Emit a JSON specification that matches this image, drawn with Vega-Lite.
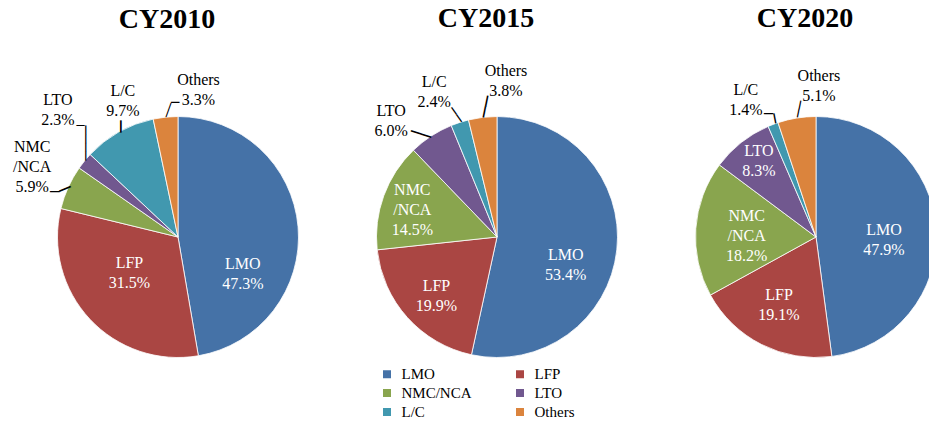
{
  "$schema": "https://vega.github.io/schema/vega-lite/v6.json",
  "padding": {"left": 12.5, "top": 4, "right": -47, "bottom": 0},
  "spacing": 0,
  "bounds": "flush",
  "datasets": {
    "y2010": [
      {"type": "LMO", "share": 0.473, "ord": 1, "label": "LMO\n47.3%"},
      {"type": "LFP", "share": 0.315, "ord": 2, "label": "LFP\n31.5%"},
      {"type": "NMC/NCA", "share": 0.059, "ord": 3, "label": "NMC\n/NCA\n5.9%"},
      {"type": "LTO", "share": 0.023, "ord": 4, "label": "LTO\n2.3%"},
      {"type": "L/C", "share": 0.097, "ord": 5, "label": "L/C\n9.7%"},
      {"type": "Others", "share": 0.033, "ord": 6, "label": "Others\n3.3%"}
    ],
    "y2015": [
      {"type": "LMO", "share": 0.534, "ord": 1, "label": "LMO\n53.4%"},
      {"type": "LFP", "share": 0.199, "ord": 2, "label": "LFP\n19.9%"},
      {"type": "NMC/NCA", "share": 0.145, "ord": 3, "label": "NMC\n/NCA\n14.5%"},
      {"type": "LTO", "share": 0.060, "ord": 4, "label": "LTO\n6.0%"},
      {"type": "L/C", "share": 0.024, "ord": 5, "label": "L/C\n2.4%"},
      {"type": "Others", "share": 0.038, "ord": 6, "label": "Others\n3.8%"}
    ],
    "y2020": [
      {"type": "LMO", "share": 0.479, "ord": 1, "label": "LMO\n47.9%"},
      {"type": "LFP", "share": 0.191, "ord": 2, "label": "LFP\n19.1%"},
      {"type": "NMC/NCA", "share": 0.182, "ord": 3, "label": "NMC\n/NCA\n18.2%"},
      {"type": "LTO", "share": 0.083, "ord": 4, "label": "LTO\n8.3%"},
      {"type": "L/C", "share": 0.014, "ord": 5, "label": "L/C\n1.4%"},
      {"type": "Others", "share": 0.051, "ord": 6, "label": "Others\n5.1%"}
    ]
  },
  "hconcat": [
    {
      "width": 319, "height": 250, "title": {"text": "CY2010", "offset": 10.7},
      "data": {"name": "y2010"},
      "layer": [
        {"mark": {"type": "arc", "outerRadius": 120.5, "stroke": "white", "strokeWidth": 0.8},
         "encoding": {
           "theta": {"field": "share", "type": "quantitative", "stack": true, "scale": {"domain": [0, 1]}},
           "order": {"field": "ord"},
           "color": {"field": "type", "type": "nominal",
             "scale": {"domain": ["LMO", "LFP", "NMC/NCA", "LTO", "L/C", "Others"], "range": ["#4572A7", "#AA4643", "#89A54E", "#71588F", "#4198AF", "#DB843D"]},
             "legend": {"orient": "none", "legendX": 361, "legendY": 254.5, "direction": "horizontal", "title": null, "columns": 2, "symbolType": "square", "symbolSize": 64, "symbolStrokeWidth": 0, "labelFont": "Liberation Serif", "labelFontSize": 15, "labelColor": "black", "labelOffset": 7, "columnPadding": 40, "rowPadding": 3, "padding": 0}}
         }},
        {"mark": {"type": "text", "radius": 74.4, "thetaOffset": 0.598, "dy": -10, "color": "white"}, "encoding": {"theta": {"field": "share", "type": "quantitative", "stack": true}, "order": {"field": "ord"}, "text": {"condition": {"test": "datum.type==='LMO'", "field": "label"}, "value": ""}}},
        {"mark": {"type": "text", "radius": 60.3, "thetaOffset": 0.1155, "dy": -10, "color": "white"}, "encoding": {"theta": {"field": "share", "type": "quantitative", "stack": true}, "order": {"field": "ord"}, "text": {"condition": {"test": "datum.type==='LFP'", "field": "label"}, "value": ""}}},
        {"mark": {"type": "text", "radius": 162, "thetaOffset": 0.026, "dy": -20, "color": "black"}, "encoding": {"theta": {"field": "share", "type": "quantitative", "stack": true}, "order": {"field": "ord"}, "text": {"condition": {"test": "datum.type==='NMC/NCA'", "field": "label"}, "value": ""}}},
        {"mark": {"type": "text", "radius": 174.5, "thetaOffset": 0.130, "dy": -10, "color": "black"}, "encoding": {"theta": {"field": "share", "type": "quantitative", "stack": true}, "order": {"field": "ord"}, "text": {"condition": {"test": "datum.type==='LTO'", "field": "label"}, "value": ""}}},
        {"mark": {"type": "text", "radius": 147.2, "thetaOffset": 0.128, "dy": -10, "color": "black"}, "encoding": {"theta": {"field": "share", "type": "quantitative", "stack": true}, "order": {"field": "ord"}, "text": {"condition": {"test": "datum.type==='L/C'", "field": "label"}, "value": ""}}},
        {"mark": {"type": "text", "radius": 148.9, "thetaOffset": 0.2416, "dy": -10, "color": "black"}, "encoding": {"theta": {"field": "share", "type": "quantitative", "stack": true}, "order": {"field": "ord"}, "text": {"condition": {"test": "datum.type==='Others'", "field": "label"}, "value": ""}}},
        {"mark": {"type": "text", "radius": 131.2, "thetaOffset": -0.0733, "angle": 0, "font": "DejaVu Sans Mono", "fontSize": 15.8, "color": "black"}, "encoding": {"theta": {"field": "share", "type": "quantitative", "stack": true}, "order": {"field": "ord"}, "text": {"condition": {"test": "datum.type==='NMC/NCA'", "value": "─"}, "value": ""}}},
        {"mark": {"type": "text", "radius": 122.3, "thetaOffset": -0.0262, "angle": -22.3, "font": "DejaVu Sans Mono", "fontSize": 20, "color": "black"}, "encoding": {"theta": {"field": "share", "type": "quantitative", "stack": true}, "order": {"field": "ord"}, "text": {"condition": {"test": "datum.type==='NMC/NCA'", "value": "─"}, "value": ""}}},
        {"mark": {"type": "text", "radius": 148.1, "thetaOffset": 0.170, "angle": 0, "font": "DejaVu Sans Mono", "fontSize": 13.3, "color": "black"}, "encoding": {"theta": {"field": "share", "type": "quantitative", "stack": true}, "order": {"field": "ord"}, "text": {"condition": {"test": "datum.type==='LTO'", "value": "─"}, "value": ""}}},
        {"mark": {"type": "text", "radius": 132.1, "thetaOffset": 0.1107, "angle": 90, "font": "DejaVu Sans Mono", "fontSize": 14.5, "color": "black"}, "encoding": {"theta": {"field": "share", "type": "quantitative", "stack": true}, "order": {"field": "ord"}, "text": {"condition": {"test": "datum.type==='LTO'", "value": "────"}, "value": ""}}},
        {"mark": {"type": "text", "radius": 125, "thetaOffset": 0.0251, "angle": 90, "font": "DejaVu Sans Mono", "fontSize": 19.9, "color": "black"}, "encoding": {"theta": {"field": "share", "type": "quantitative", "stack": true}, "order": {"field": "ord"}, "text": {"condition": {"test": "datum.type==='L/C'", "value": "─"}, "value": ""}}},
        {"mark": {"type": "text", "radius": 133.8, "thetaOffset": 0.0827, "angle": 0, "font": "DejaVu Sans Mono", "fontSize": 13.8, "color": "black"}, "encoding": {"theta": {"field": "share", "type": "quantitative", "stack": true}, "order": {"field": "ord"}, "text": {"condition": {"test": "datum.type==='Others'", "value": "─"}, "value": ""}}},
        {"mark": {"type": "text", "radius": 127.1, "thetaOffset": 0.0304, "angle": -70.3, "font": "DejaVu Sans Mono", "fontSize": 12.4, "color": "black"}, "encoding": {"theta": {"field": "share", "type": "quantitative", "stack": true}, "order": {"field": "ord"}, "text": {"condition": {"test": "datum.type==='Others'", "value": "──"}, "value": ""}}}
      ]
    },
    {
      "width": 319, "height": 250, "title": {"text": "CY2015", "offset": 29.7},
      "data": {"name": "y2015"},
      "layer": [
        {"mark": {"type": "arc", "outerRadius": 120.5, "stroke": "white", "strokeWidth": 0.8},
         "encoding": {
           "theta": {"field": "share", "type": "quantitative", "stack": true, "scale": {"domain": [0, 1]}},
           "order": {"field": "ord"},
           "color": {"field": "type", "type": "nominal",
             "scale": {"domain": ["LMO", "LFP", "NMC/NCA", "LTO", "L/C", "Others"], "range": ["#4572A7", "#AA4643", "#89A54E", "#71588F", "#4198AF", "#DB843D"]},
             "legend": {"orient": "none", "legendX": 361, "legendY": 254.5, "direction": "horizontal", "title": null, "columns": 2, "symbolType": "square", "symbolSize": 64, "symbolStrokeWidth": 0, "labelFont": "Liberation Serif", "labelFontSize": 15, "labelColor": "black", "labelOffset": 7, "columnPadding": 40, "rowPadding": 3, "padding": 0}}
         }},
        {"mark": {"type": "text", "radius": 74.1, "thetaOffset": 0.2772, "dy": -10, "color": "white"}, "encoding": {"theta": {"field": "share", "type": "quantitative", "stack": true}, "order": {"field": "ord"}, "text": {"condition": {"test": "datum.type==='LMO'", "field": "label"}, "value": ""}}},
        {"mark": {"type": "text", "radius": 84.3, "thetaOffset": -0.0377, "dy": -10, "color": "white"}, "encoding": {"theta": {"field": "share", "type": "quantitative", "stack": true}, "order": {"field": "ord"}, "text": {"condition": {"test": "datum.type==='LFP'", "field": "label"}, "value": ""}}},
        {"mark": {"type": "text", "radius": 88.9, "thetaOffset": -0.0398, "dy": -20, "color": "white"}, "encoding": {"theta": {"field": "share", "type": "quantitative", "stack": true}, "order": {"field": "ord"}, "text": {"condition": {"test": "datum.type==='NMC/NCA'", "field": "label"}, "value": ""}}},
        {"mark": {"type": "text", "radius": 156.9, "thetaOffset": -0.162, "dy": -10, "color": "black"}, "encoding": {"theta": {"field": "share", "type": "quantitative", "stack": true}, "order": {"field": "ord"}, "text": {"condition": {"test": "datum.type==='LTO'", "field": "label"}, "value": ""}}},
        {"mark": {"type": "text", "radius": 157.7, "thetaOffset": -0.096, "dy": -10, "color": "black"}, "encoding": {"theta": {"field": "share", "type": "quantitative", "stack": true}, "order": {"field": "ord"}, "text": {"condition": {"test": "datum.type==='L/C'", "field": "label"}, "value": ""}}},
        {"mark": {"type": "text", "radius": 156.6, "thetaOffset": 0.177, "dy": -10, "color": "black"}, "encoding": {"theta": {"field": "share", "type": "quantitative", "stack": true}, "order": {"field": "ord"}, "text": {"condition": {"test": "datum.type==='Others'", "field": "label"}, "value": ""}}},
        {"mark": {"type": "text", "radius": 127.5, "thetaOffset": -0.0642, "angle": 17.5, "font": "DejaVu Sans Mono", "fontSize": 17.4, "color": "black"}, "encoding": {"theta": {"field": "share", "type": "quantitative", "stack": true}, "order": {"field": "ord"}, "text": {"condition": {"test": "datum.type==='LTO'", "value": "──"}, "value": ""}}},
        {"mark": {"type": "text", "radius": 128.6, "thetaOffset": -0.0122, "angle": 55.2, "font": "DejaVu Sans Mono", "fontSize": 14.5, "color": "black"}, "encoding": {"theta": {"field": "share", "type": "quantitative", "stack": true}, "order": {"field": "ord"}, "text": {"condition": {"test": "datum.type==='L/C'", "value": "──"}, "value": ""}}},
        {"mark": {"type": "text", "radius": 131, "thetaOffset": 0.0286, "angle": 101.2, "font": "DejaVu Sans Mono", "fontSize": 18.4, "color": "black"}, "encoding": {"theta": {"field": "share", "type": "quantitative", "stack": true}, "order": {"field": "ord"}, "text": {"condition": {"test": "datum.type==='Others'", "value": "──"}, "value": ""}}}
      ]
    },
    {
      "width": 319, "height": 250, "title": {"text": "CY2020", "offset": 34.7},
      "data": {"name": "y2020"},
      "layer": [
        {"mark": {"type": "arc", "outerRadius": 120.5, "stroke": "white", "strokeWidth": 0.8},
         "encoding": {
           "theta": {"field": "share", "type": "quantitative", "stack": true, "scale": {"domain": [0, 1]}},
           "order": {"field": "ord"},
           "color": {"field": "type", "type": "nominal",
             "scale": {"domain": ["LMO", "LFP", "NMC/NCA", "LTO", "L/C", "Others"], "range": ["#4572A7", "#AA4643", "#89A54E", "#71588F", "#4198AF", "#DB843D"]},
             "legend": {"orient": "none", "legendX": 361, "legendY": 254.5, "direction": "horizontal", "title": null, "columns": 2, "symbolType": "square", "symbolSize": 64, "symbolStrokeWidth": 0, "labelFont": "Liberation Serif", "labelFontSize": 15, "labelColor": "black", "labelOffset": 7, "columnPadding": 40, "rowPadding": 3, "padding": 0}}
         }},
        {"mark": {"type": "text", "radius": 68.1, "thetaOffset": 0.1166, "dy": -10, "color": "white"}, "encoding": {"theta": {"field": "share", "type": "quantitative", "stack": true}, "order": {"field": "ord"}, "text": {"condition": {"test": "datum.type==='LMO'", "field": "label"}, "value": ""}}},
        {"mark": {"type": "text", "radius": 77, "thetaOffset": 0.0328, "dy": -10, "color": "white"}, "encoding": {"theta": {"field": "share", "type": "quantitative", "stack": true}, "order": {"field": "ord"}, "text": {"condition": {"test": "datum.type==='LFP'", "field": "label"}, "value": ""}}},
        {"mark": {"type": "text", "radius": 69.3, "thetaOffset": -0.0552, "dy": -20, "color": "white"}, "encoding": {"theta": {"field": "share", "type": "quantitative", "stack": true}, "order": {"field": "ord"}, "text": {"condition": {"test": "datum.type==='NMC/NCA'", "field": "label"}, "value": ""}}},
        {"mark": {"type": "text", "radius": 94.8, "thetaOffset": 0.0234, "dy": -10, "color": "white"}, "encoding": {"theta": {"field": "share", "type": "quantitative", "stack": true}, "order": {"field": "ord"}, "text": {"condition": {"test": "datum.type==='LTO'", "field": "label"}, "value": ""}}},
        {"mark": {"type": "text", "radius": 153.5, "thetaOffset": -0.1103, "dy": -10, "color": "black"}, "encoding": {"theta": {"field": "share", "type": "quantitative", "stack": true}, "order": {"field": "ord"}, "text": {"condition": {"test": "datum.type==='L/C'", "field": "label"}, "value": ""}}},
        {"mark": {"type": "text", "radius": 151.5, "thetaOffset": 0.1794, "dy": -10, "color": "black"}, "encoding": {"theta": {"field": "share", "type": "quantitative", "stack": true}, "order": {"field": "ord"}, "text": {"condition": {"test": "datum.type==='Others'", "field": "label"}, "value": ""}}},
        {"mark": {"type": "text", "radius": 131.9, "thetaOffset": -0.0038, "angle": 0, "font": "DejaVu Sans Mono", "fontSize": 15, "color": "black"}, "encoding": {"theta": {"field": "share", "type": "quantitative", "stack": true}, "order": {"field": "ord"}, "text": {"condition": {"test": "datum.type==='L/C'", "value": "─"}, "value": ""}}},
        {"mark": {"type": "text", "radius": 125.7, "thetaOffset": 0.0241, "angle": 79, "font": "DejaVu Sans Mono", "fontSize": 16.6, "color": "black"}, "encoding": {"theta": {"field": "share", "type": "quantitative", "stack": true}, "order": {"field": "ord"}, "text": {"condition": {"test": "datum.type==='L/C'", "value": "─"}, "value": ""}}},
        {"mark": {"type": "text", "radius": 129.4, "thetaOffset": 0.0223, "angle": 101.2, "font": "DejaVu Sans Mono", "fontSize": 14.1, "color": "black"}, "encoding": {"theta": {"field": "share", "type": "quantitative", "stack": true}, "order": {"field": "ord"}, "text": {"condition": {"test": "datum.type==='Others'", "value": "──"}, "value": ""}}}
      ]
    }
  ],
  "config": {
    "view": {"stroke": null},
    "text": {"font": "Liberation Serif", "fontSize": 16, "align": "center", "baseline": "middle", "lineBreak": "\n", "lineHeight": 20},
    "title": {"font": "Liberation Serif", "fontSize": 28, "fontWeight": "bold", "color": "black", "anchor": "middle", "dx": -11, "frame": "group", "baseline": "alphabetic"}
  }
}
